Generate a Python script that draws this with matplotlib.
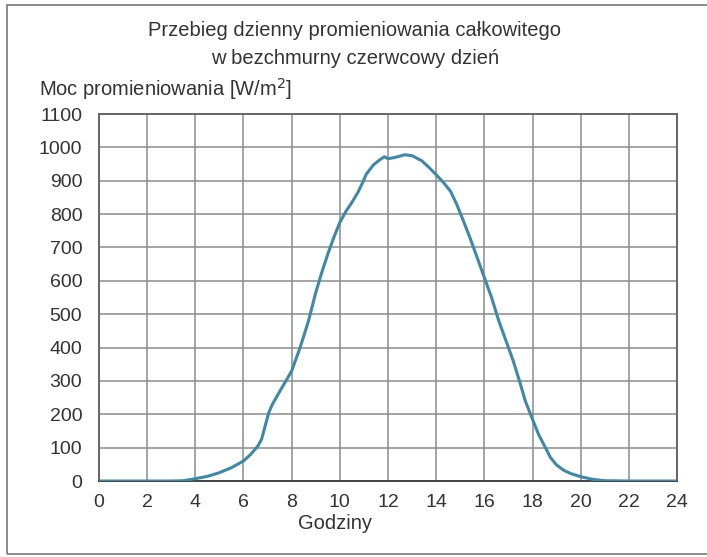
import matplotlib.pyplot as plt
import matplotlib.patches as patches

# Data
hours = [0, 1, 2, 3, 3.5, 4.0, 4.5, 5.0, 5.5, 6.0, 6.3, 6.6, 6.75, 6.9, 7.05,
         7.2, 7.5, 7.8, 8.0, 8.35, 8.7, 9.0, 9.25, 9.5, 9.75, 10.0, 10.25,
         10.5, 10.75, 10.95, 11.1, 11.4, 11.7, 11.85, 12.0, 12.3, 12.7, 13.0,
         13.4, 13.7, 14.0, 14.3, 14.6, 14.85, 15.1, 15.4, 15.7, 16.0, 16.3,
         16.6, 16.9, 17.2, 17.5, 17.7, 18.0, 18.25, 18.5, 18.75, 19.0, 19.3,
         19.6, 20.0, 20.5, 21.0, 22, 23, 24]
power = [0, 0, 0, 0, 1, 7, 14, 25, 40, 60, 80, 105, 125, 165, 205,
         230, 268, 305, 330, 400, 480, 565, 625, 680, 730, 775, 808,
         835, 865, 895, 920, 948, 965, 972, 966, 970, 978, 975,
         960, 940, 918, 895, 868, 830, 785, 730, 670, 610, 550,
         480, 420, 360, 290, 240, 185, 140, 105, 70, 48, 32,
         22, 13, 5, 1, 0, 0, 0]

x_ticks = list(range(0, 25, 2))
y_ticks = list(range(0, 1101, 100))

plt.rcParams['font.family'] = ['Liberation Sans', 'DejaVu Sans']

fig = plt.figure(figsize=(7.07, 5.57), dpi=100)
ax = fig.add_axes([0.140, 0.1364, 0.8176, 0.6589])

ax.plot(hours, power, color='#3f88a8', lw=2.2, solid_capstyle='round',
        solid_joinstyle='round', zorder=3)

ax.set_xlim(0, 24)
ax.set_ylim(0, 1100)
ax.set_xticks(x_ticks)
ax.set_yticks(y_ticks)
ax.tick_params(length=0, labelsize=14, colors='#333333')
ax.tick_params(axis='y', pad=12)
ax.tick_params(axis='x', pad=9)
ax.grid(True, color='#8c8c8c', lw=1.1)
for s in ax.spines.values():
    s.set_color('#666666')
    s.set_linewidth(1.4)
ax.spines['bottom'].set_color('#444444')

fig.text(0.502, 0.945, "Przebieg dzienny promieniowania całkowitego",
         ha='center', va='center', fontsize=14.5, color='#333333')
fig.text(0.502, 0.895, "w bezchmurny czerwcowy dzień",
         ha='center', va='center', fontsize=14.5, color='#333333')
fig.text(0.055, 0.84, "Moc promieniowania [W/m$^2$]",
         ha='left', va='center', fontsize=14.5, color='#333333')
fig.text(0.474, 0.061, "Godziny",
         ha='center', va='center', fontsize=14.5, color='#333333')

# frame around the figure
fig.patches.append(patches.Rectangle((0.010, 0.006), 1.2, 0.985, transform=fig.transFigure,
                                     fill=False, edgecolor='#777777', lw=1.2))

fig.savefig('out.png', dpi=100)
